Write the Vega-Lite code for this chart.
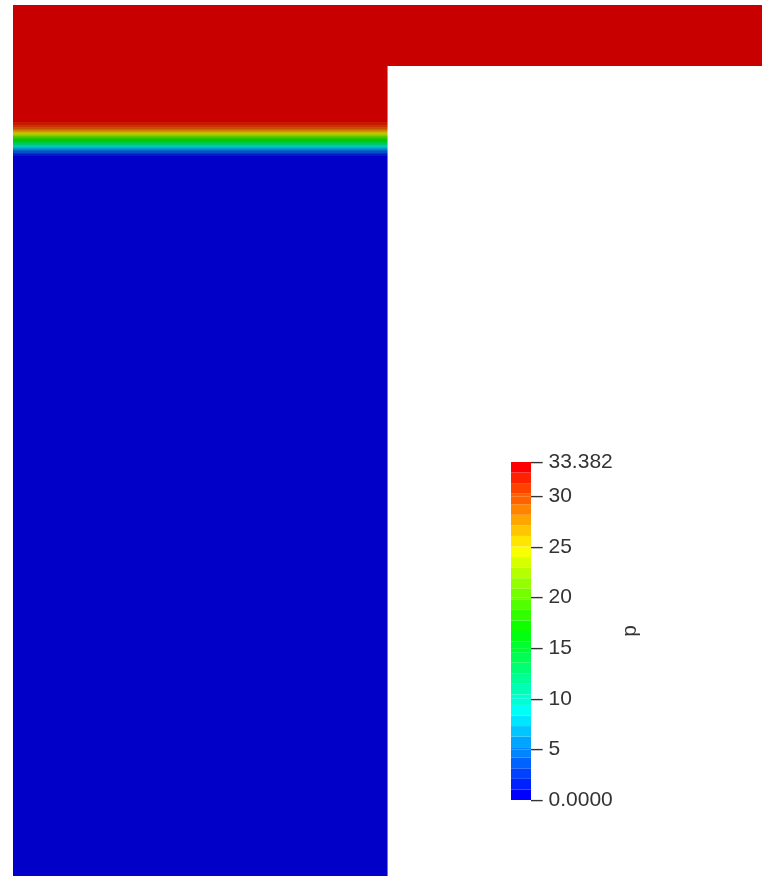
{
  "$schema": "https://vega.github.io/schema/vega-lite/v6.json",
  "width": 749,
  "height": 871,
  "autosize": {"type": "none"},
  "padding": {"left": 13, "top": 5, "right": 8, "bottom": 0},
  "background": "white",
  "config": {"view": {"stroke": null}},
  "datasets": {
    "field": [
      {"x0": 0, "x1": 2, "d0": 0, "d1": 0.163, "p": 33.0},
      {"x0": 0, "x1": 1, "d0": 0, "d1": 0.30708, "p": 33.0},
      {"x0": 0, "x1": 1, "d0": 0.30708, "d1": 0.30975, "p": 32.7},
      {"x0": 0, "x1": 1, "d0": 0.30975, "d1": 0.31242, "p": 32.4},
      {"x0": 0, "x1": 1, "d0": 0.31242, "d1": 0.31509, "p": 32.1},
      {"x0": 0, "x1": 1, "d0": 0.31509, "d1": 0.31776, "p": 31.8},
      {"x0": 0, "x1": 1, "d0": 0.31776, "d1": 0.32043, "p": 31.5},
      {"x0": 0, "x1": 1, "d0": 0.32043, "d1": 0.32310, "p": 31.1},
      {"x0": 0, "x1": 1, "d0": 0.32310, "d1": 0.32577, "p": 30.7},
      {"x0": 0, "x1": 1, "d0": 0.32577, "d1": 0.32844, "p": 30.2},
      {"x0": 0, "x1": 1, "d0": 0.32844, "d1": 0.33111, "p": 29.6},
      {"x0": 0, "x1": 1, "d0": 0.33111, "d1": 0.33378, "p": 28.9},
      {"x0": 0, "x1": 1, "d0": 0.33378, "d1": 0.33645, "p": 28.0},
      {"x0": 0, "x1": 1, "d0": 0.33645, "d1": 0.33912, "p": 27.0},
      {"x0": 0, "x1": 1, "d0": 0.33912, "d1": 0.34179, "p": 25.9},
      {"x0": 0, "x1": 1, "d0": 0.34179, "d1": 0.34446, "p": 24.7},
      {"x0": 0, "x1": 1, "d0": 0.34446, "d1": 0.34713, "p": 23.4},
      {"x0": 0, "x1": 1, "d0": 0.34713, "d1": 0.34980, "p": 22.1},
      {"x0": 0, "x1": 1, "d0": 0.34980, "d1": 0.35247, "p": 20.8},
      {"x0": 0, "x1": 1, "d0": 0.35247, "d1": 0.35514, "p": 19.5},
      {"x0": 0, "x1": 1, "d0": 0.35514, "d1": 0.35781, "p": 18.3},
      {"x0": 0, "x1": 1, "d0": 0.35781, "d1": 0.36048, "p": 17.2},
      {"x0": 0, "x1": 1, "d0": 0.36048, "d1": 0.36315, "p": 16.2},
      {"x0": 0, "x1": 1, "d0": 0.36315, "d1": 0.36582, "p": 15.2},
      {"x0": 0, "x1": 1, "d0": 0.36582, "d1": 0.36849, "p": 14.1},
      {"x0": 0, "x1": 1, "d0": 0.36849, "d1": 0.37116, "p": 12.9},
      {"x0": 0, "x1": 1, "d0": 0.37116, "d1": 0.37383, "p": 11.6},
      {"x0": 0, "x1": 1, "d0": 0.37383, "d1": 0.37650, "p": 10.3},
      {"x0": 0, "x1": 1, "d0": 0.37650, "d1": 0.37917, "p": 9.0},
      {"x0": 0, "x1": 1, "d0": 0.37917, "d1": 0.38184, "p": 7.8},
      {"x0": 0, "x1": 1, "d0": 0.38184, "d1": 0.38451, "p": 6.7},
      {"x0": 0, "x1": 1, "d0": 0.38451, "d1": 0.38718, "p": 5.7},
      {"x0": 0, "x1": 1, "d0": 0.38718, "d1": 0.38985, "p": 4.8},
      {"x0": 0, "x1": 1, "d0": 0.38985, "d1": 0.39252, "p": 4.0},
      {"x0": 0, "x1": 1, "d0": 0.39252, "d1": 0.39519, "p": 3.3},
      {"x0": 0, "x1": 1, "d0": 0.39519, "d1": 0.39786, "p": 2.6},
      {"x0": 0, "x1": 1, "d0": 0.39786, "d1": 0.40053, "p": 2.0},
      {"x0": 0, "x1": 1, "d0": 0.40053, "d1": 0.40320, "p": 1.5},
      {"x0": 0, "x1": 1, "d0": 0.40320, "d1": 0.40587, "p": 1.0},
      {"x0": 0, "x1": 1, "d0": 0.40587, "d1": 0.40854, "p": 0.6},
      {"x0": 0, "x1": 1, "d0": 0.40854, "d1": 0.41121, "p": 0.3},
      {"x0": 0, "x1": 1, "d0": 0.41121, "d1": 0.41389, "p": 0.1},
      {"x0": 0, "x1": 1, "d0": 0.41389, "d1": 2.32577, "p": 0.0}
    ],
    "surface": [
      {"x0": 0, "x1": 2, "d0": 0, "d1": 0.163},
      {"x0": 0, "x1": 1, "d0": 0.163, "d1": 2.32577}
    ]
  },
  "layer": [
    {
      "data": {"name": "field"},
      "mark": {"type": "rect"},
      "encoding": {
        "x": {"field": "x0", "type": "quantitative", "scale": {"domain": [0, 2], "nice": false, "zero": false}, "axis": null},
        "x2": {"field": "x1"},
        "y": {"field": "d0", "type": "quantitative", "scale": {"domain": [0, 2.32577], "reverse": true, "nice": false, "zero": false}, "axis": null},
        "y2": {"field": "d1"},
        "color": {
          "field": "p",
          "type": "quantitative",
          "scale": {
            "type": "quantize",
            "domain": [0, 33.382],
            "range": [
              "#0000ff", "#0021ff", "#0042ff", "#0063ff", "#0084ff", "#00a5ff", "#00c5ff", "#00e6ff",
              "#00fff7", "#00ffd6", "#00ffb5", "#00ff94", "#00ff73", "#00ff52", "#00ff31", "#00ff10",
              "#10ff00", "#31ff00", "#52ff00", "#73ff00", "#94ff00", "#b5ff00", "#d6ff00", "#f7ff00",
              "#ffe600", "#ffc500", "#ffa500", "#ff8400", "#ff6300", "#ff4200", "#ff2100", "#ff0000"
            ]
          },
          "legend": {
            "type": "gradient",
            "orient": "none",
            "legendX": 498,
            "legendY": 457,
            "direction": "vertical",
            "padding": 0,
            "gradientLength": 338,
            "gradientThickness": 20,
            "gradientStrokeWidth": 0,
            "values": [
              0, 1.0432, 2.0864, 3.1296, 4.1728, 5, 5.216, 6.2592, 7.3024, 8.3456, 9.3887,
              10, 10.4319, 11.4751, 12.5183, 13.5615, 14.6047, 15, 15.6479, 16.6911, 17.7342,
              18.7774, 19.8206, 20, 20.8638, 21.907, 22.9502, 23.9934, 25, 25.0366, 26.0797,
              27.1229, 28.1661, 29.2093, 30, 30.2525, 31.2957, 32.3389, 33.382
            ],
            "labelExpr": "datum.value === 0 ? '– 0.0000' : datum.value === 33.382 ? '– 33.382' : (datum.value % 5 === 0 ? '– ' + datum.value : '')",
            "labelOverlap": false,
            "labelFont": "Liberation Sans",
            "labelFontSize": 21,
            "labelColor": "#333333",
            "labelOffset": 0,
            "title": "p",
            "titleOrient": "right",
            "titleAnchor": "middle",
            "titleFont": "Liberation Sans",
            "titleFontSize": 21,
            "titleFontWeight": "normal",
            "titleColor": "#333333",
            "titlePadding": 27,
            "encoding": {
              "labels": {"baseline": {"value": "middle"}},
              "title": {"angle": {"value": -90}}
            }
          }
        }
      }
    },
    {
      "data": {"name": "surface"},
      "mark": {"type": "rect", "color": "#c8c8c8", "blend": "multiply"},
      "encoding": {
        "x": {"field": "x0", "type": "quantitative"},
        "x2": {"field": "x1"},
        "y": {"field": "d0", "type": "quantitative"},
        "y2": {"field": "d1"}
      }
    }
  ]
}
